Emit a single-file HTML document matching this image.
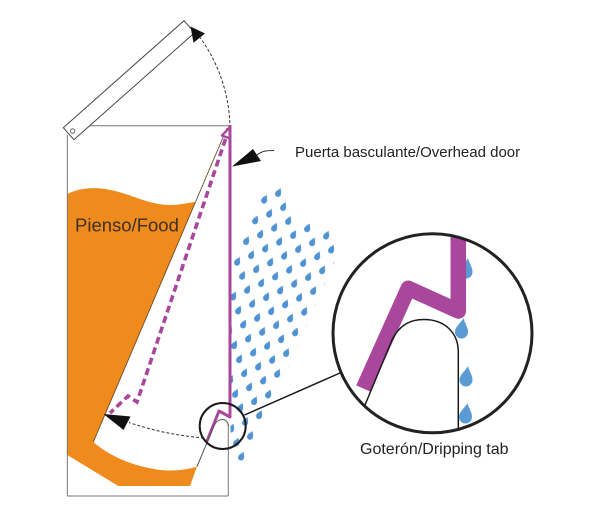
<!DOCTYPE html>
<html>
<head>
<meta charset="utf-8">
<style>
  html,body{margin:0;padding:0;background:#fff;}
  svg{display:block;}
  text{font-family:"Liberation Sans", Arial, sans-serif;}
</style>
</head>
<body>
<svg width="600" height="514" viewBox="0 0 600 514" xmlns="http://www.w3.org/2000/svg">
  <defs>
    <path id="sd" d="M0,-5 C0.9,-3 2.6,-1.4 2.6,0.6 A2.6,2.6 0 0 1 -2.6,0.6 C-2.6,-1.4 -0.9,-3 0,-5Z"/>
    <path id="bd" d="M0,-14 C2,-9 6.5,-5 6.5,0 A6.5,6.5 0 0 1 -6.5,0 C-6.5,-5 -2,-9 0,-14Z"/>
    <pattern id="rain" patternUnits="userSpaceOnUse" x="0" y="0" width="1" height="1"
             patternTransform="matrix(-14 6.7 5 14 282.8 182.95)">
      <g transform="translate(0.5 0.5) matrix(-0.061 0.02919 0.02179 0.061 0 0)">
        <use href="#sd" transform="rotate(25) scale(1.15)" fill="#4f93d2"/>
      </g>
    </pattern>
    <clipPath id="bigc"><circle cx="432.5" cy="333.3" r="99"/></clipPath>
  </defs>

  <!-- food -->
  <path d="M67.3,194 C80,188 95,186 115,191 C135,196 150,205 170,205 C182,205 190,202 195.5,202 L93.3,442 C105,452 125,465 160,470 C175,471.5 188,469.5 197,466.5 L190,486 L118.3,486 L67.3,455 Z"
        fill="#ef8a1d"/>
  <!-- slope line -->
  <line x1="227" y1="128" x2="93.3" y2="442" stroke="#6a4a2a" stroke-width="0.9"/>

  <!-- box lines -->
  <g stroke="#777" stroke-width="1" fill="none">
    <line x1="80" y1="125.7" x2="230" y2="125.7"/>
    <line x1="67.3" y1="135" x2="67.3" y2="496"/>
    <line x1="67.3" y1="496" x2="228.3" y2="496"/>
    <line x1="228.3" y1="425" x2="228.3" y2="496"/>
  </g>

  <!-- rain -->
  <path d="M266,188 L281,183 L292,205 L296,222 L312,222 L318,232 L333,230 L341,248 L337,256 L251,452 L244,468 L230.5,468 L230.5,262 L232,262 Z"
        fill="url(#rain)"/>

  <!-- lid -->
  <polygon points="63.3,127.7 184,20.7 194.6,32.7 73.9,139.7" fill="#fff" stroke="#444" stroke-width="1"/>
  <circle cx="72.6" cy="131" r="2.2" fill="#fff" stroke="#444" stroke-width="0.8"/>

  <!-- top arc + arrow -->
  <path d="M230,128 A158,158 0 0 0 200,37.5" fill="none" stroke="#333" stroke-width="1" stroke-dasharray="3 2"/>
  <polygon points="190.5,26.5 205,33.5 193.5,42.8" fill="#111"/>

  <!-- dashed door (lowered position) -->
  <path d="M225.5,139 L137,402 L128,396 L110,413" fill="none" stroke="#a8479c" stroke-width="3.6" stroke-dasharray="7 4"/>
  <polygon points="229.5,127.5 230,138.5 222,135.5" fill="#fff" stroke="#a8479c" stroke-width="2.4" stroke-linejoin="round"/>

  <!-- solid door -->
  <path d="M230,125 L230,417 L219,411 L207,441" fill="none" stroke="#a8479c" stroke-width="3" stroke-linejoin="round"/>

  <!-- small tab -->
  <path d="M197,466.5 L213.5,427 C215.5,422 219,419.5 222.5,419.5 C226,419.5 228.3,422.5 228.3,426" fill="none" stroke="#555" stroke-width="1"/>

  <!-- bottom arc + arrow -->
  <path d="M204,438 A314,314 0 0 1 129,422.5" fill="none" stroke="#333" stroke-width="1" stroke-dasharray="3 2"/>
  <polygon points="103.5,414 130.5,416.5 123.5,430" fill="#111"/>

  <!-- small circle + connector -->
  <circle cx="222.7" cy="426" r="23" fill="none" stroke="#1a1a1a" stroke-width="2"/>
  <line x1="244.5" y1="415" x2="340" y2="373" stroke="#1a1a1a" stroke-width="1.5"/>

  <!-- big detail circle -->
  <g clip-path="url(#bigc)">
    <use href="#bd" transform="translate(466 272) rotate(8)" fill="#5b9bd5"/>
    <use href="#bd" transform="translate(461.5 332) rotate(8)" fill="#5b9bd5"/>
    <use href="#bd" transform="translate(466 380) rotate(8)" fill="#5b9bd5"/>
    <use href="#bd" transform="translate(465.5 417) rotate(8)" fill="#5b9bd5"/>
    <path d="M458.3,215 L458.3,311 L408.3,288.3 L363.3,388.5" fill="none" stroke="#a8479c" stroke-width="15.5" stroke-linejoin="round" stroke-linecap="butt"/>
    <path d="M365,405 L392,340 C400,324 411,319.5 424,319.5 C445,319.5 458.3,333 458.3,352 L458.3,440" fill="none" stroke="#1a1a1a" stroke-width="1.5"/>
  </g>
  <circle cx="432.5" cy="333.3" r="99.5" fill="none" stroke="#222" stroke-width="3"/>

  <!-- door label arrow -->
  <polygon points="232,166.5 253,149 261,161" fill="#111"/>
  <path d="M257,155 C262,151 266,150.5 274,150.5" fill="none" stroke="#333" stroke-width="1"/>

  <!-- labels -->
  <text x="295" y="157" font-size="15" fill="#222">Puerta basculante/Overhead door</text>
  <text x="75" y="231.5" font-size="18.5" fill="#3d3126">Pienso/Food</text>
  <text x="360" y="454" font-size="16" fill="#222">Goterón/Dripping tab</text>
</svg>
</body>
</html>
